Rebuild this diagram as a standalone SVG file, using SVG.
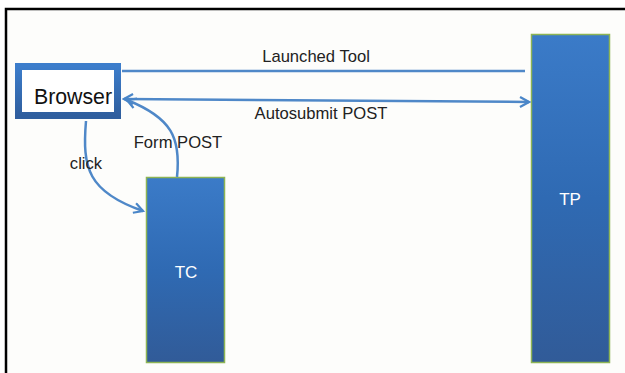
<svg xmlns="http://www.w3.org/2000/svg" width="625" height="373" viewBox="0 0 625 373">
<defs>
<linearGradient id="gBar" x1="0" y1="0" x2="0" y2="1">
<stop offset="0" stop-color="#3b7bc8"/>
<stop offset="0.5" stop-color="#2f6ab3"/>
<stop offset="1" stop-color="#315b98"/>
</linearGradient>
<linearGradient id="gBorder" x1="0" y1="0" x2="0" y2="1">
<stop offset="0" stop-color="#3c7dcb"/>
<stop offset="1" stop-color="#2f5e9e"/>
</linearGradient>
<marker id="arr" viewBox="0 0 12 12" refX="10" refY="6" markerWidth="12" markerHeight="12" markerUnits="userSpaceOnUse" orient="auto-start-reverse">
<path d="M1,1 L10,6 L1,11" fill="none" stroke="#4a86c8" stroke-width="2.2"/>
</marker>
<style>
.lbl{font-family:"Liberation Sans",Arial,sans-serif;font-size:16.6px;fill:#222;text-anchor:middle}
.wlbl{font-family:"Liberation Sans",Arial,sans-serif;font-size:17px;fill:#ffffff;text-anchor:middle}
.conn{fill:none;stroke:#4f88c8;stroke-width:2.5}
.bar{fill:url(#gBar);stroke:#8db454;stroke-width:1.5}
</style>
</defs>
<rect x="0" y="0" width="625" height="373" fill="#ffffff"/>
<rect x="6" y="9" width="619" height="364" fill="#fdfdfb"/>
<path d="M6,373 L6,9 L625,9" fill="none" stroke="#000" stroke-width="2.5"/>

<g id="TP">
<rect class="bar" x="531.5" y="34.5" width="78" height="328"/>
<text class="wlbl" x="570" y="205">TP</text>
</g>
<g id="TC">
<rect class="bar" x="146.5" y="177.5" width="78" height="185"/>
<text class="wlbl" x="186" y="278">TC</text>
</g>
<g id="Browser">
<rect x="18.5" y="66.5" width="99" height="49" fill="#ffffff" stroke="url(#gBorder)" stroke-width="7"/>
<text x="73" y="104" style="font-family:'Liberation Sans',Arial,sans-serif;font-size:21.3px;fill:#111;text-anchor:middle">Browser</text>
</g>

<g id="connectors">
<path class="conn" d="M122,71 L525,71"/>
<path class="conn" d="M124,99 L529,102" marker-start="url(#arr)" marker-end="url(#arr)"/>
<path class="conn" d="M86,121 C82,168 88,192 143,211" marker-end="url(#arr)"/>
<path class="conn" d="M177,177 C181,138 172,118 127,100" marker-end="url(#arr)"/>
<text class="lbl" x="316" y="62">Launched Tool</text>
<text class="lbl" x="321" y="119">Autosubmit POST</text>
<text class="lbl" x="86" y="169">click</text>
<text class="lbl" x="178" y="148">Form POST</text>
</g>
</svg>
